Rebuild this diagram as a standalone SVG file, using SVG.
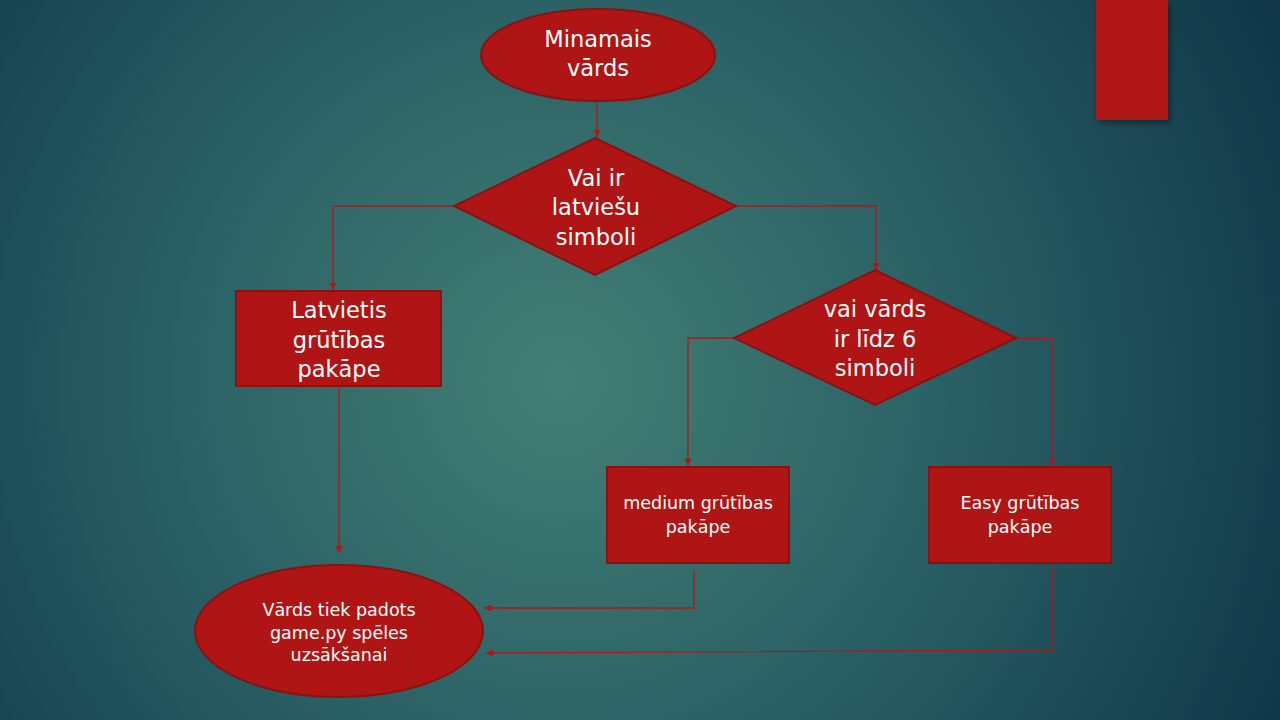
<svg xmlns="http://www.w3.org/2000/svg" width="1280" height="720" viewBox="0 0 1280 720">
<defs>
<radialGradient id="bg" cx="560" cy="380" r="820" gradientUnits="userSpaceOnUse">
<stop offset="0" stop-color="#427f74"/>
<stop offset="0.45" stop-color="#2b6266"/>
<stop offset="1" stop-color="#0f3547"/>
</radialGradient>
<filter id="sh" x="-20%" y="-20%" width="150%" height="150%">
<feDropShadow dx="2" dy="3" stdDeviation="3" flood-color="#000" flood-opacity="0.4"/>
</filter>
<marker id="ah" viewBox="0 0 10 10" refX="10" refY="5" markerWidth="7" markerHeight="7" orient="auto" markerUnits="userSpaceOnUse">
<path d="M0,0 L10,5 L0,10 z" fill="#b01818"/>
</marker>
</defs>
<style>
.n{fill:#b01515;stroke:#8a1212;stroke-width:2}
.c{fill:none;stroke:#b01818;stroke-width:1.3;marker-end:url(#ah)}
.t{font-family:"DejaVu Sans","Liberation Sans",sans-serif;fill:#fff;text-anchor:middle}
.l{font-size:22.5px}
.s{font-size:17.5px}
</style>
<rect width="1280" height="720" fill="url(#bg)"/>
<rect x="1096" y="0" width="72" height="120" fill="#b01515" filter="url(#sh)"/>
<g id="connectors">
<path class="c" d="M597,101 V137"/>
<path class="c" d="M454,206 H333 V290"/>
<path class="c" d="M339,386 V553"/>
<path class="c" d="M736,206 H876 V270"/>
<path class="c" d="M734,338 H688 V466"/>
<path class="c" d="M1016,338 L1052,339 V466"/>
<path class="c" d="M694,570 V608 H484"/>
<path class="c" d="M1053,565 V650 L486,653"/>
</g>
<g id="start">
<ellipse class="n" cx="598" cy="55" rx="117" ry="46"/>
<text class="t l" x="598" y="47">Minamais</text>
<text class="t l" x="598" y="76">vārds</text>
</g>
<g id="d1">
<polygon class="n" points="595,138 736,206 595,275 454,206"/>
<text class="t l" x="596" y="186">Vai ir</text>
<text class="t l" x="596" y="215">latviešu</text>
<text class="t l" x="596" y="245">simboli</text>
</g>
<g id="latv">
<rect class="n" x="236" y="291" width="205" height="95"/>
<text class="t l" x="339" y="318">Latvietis</text>
<text class="t l" x="339" y="348">grūtības</text>
<text class="t l" x="339" y="377">pakāpe</text>
</g>
<g id="d2">
<polygon class="n" points="875,270 1016,338 875,405 734,338"/>
<text class="t l" x="875" y="317">vai vārds</text>
<text class="t l" x="875" y="347">ir līdz 6</text>
<text class="t l" x="875" y="376">simboli</text>
</g>
<g id="medium">
<rect class="n" x="607" y="467" width="182" height="96"/>
<text class="t s" x="698" y="509">medium grūtības</text>
<text class="t s" x="698" y="533">pakāpe</text>
</g>
<g id="easy">
<rect class="n" x="929" y="467" width="182" height="96"/>
<text class="t s" x="1020" y="509">Easy grūtības</text>
<text class="t s" x="1020" y="533">pakāpe</text>
</g>
<g id="end">
<ellipse class="n" cx="339" cy="631" rx="144" ry="66"/>
<text class="t s" x="339" y="616">Vārds tiek padots</text>
<text class="t s" x="339" y="639">game.py spēles</text>
<text class="t s" x="339" y="661">uzsākšanai</text>
</g>
</svg>
